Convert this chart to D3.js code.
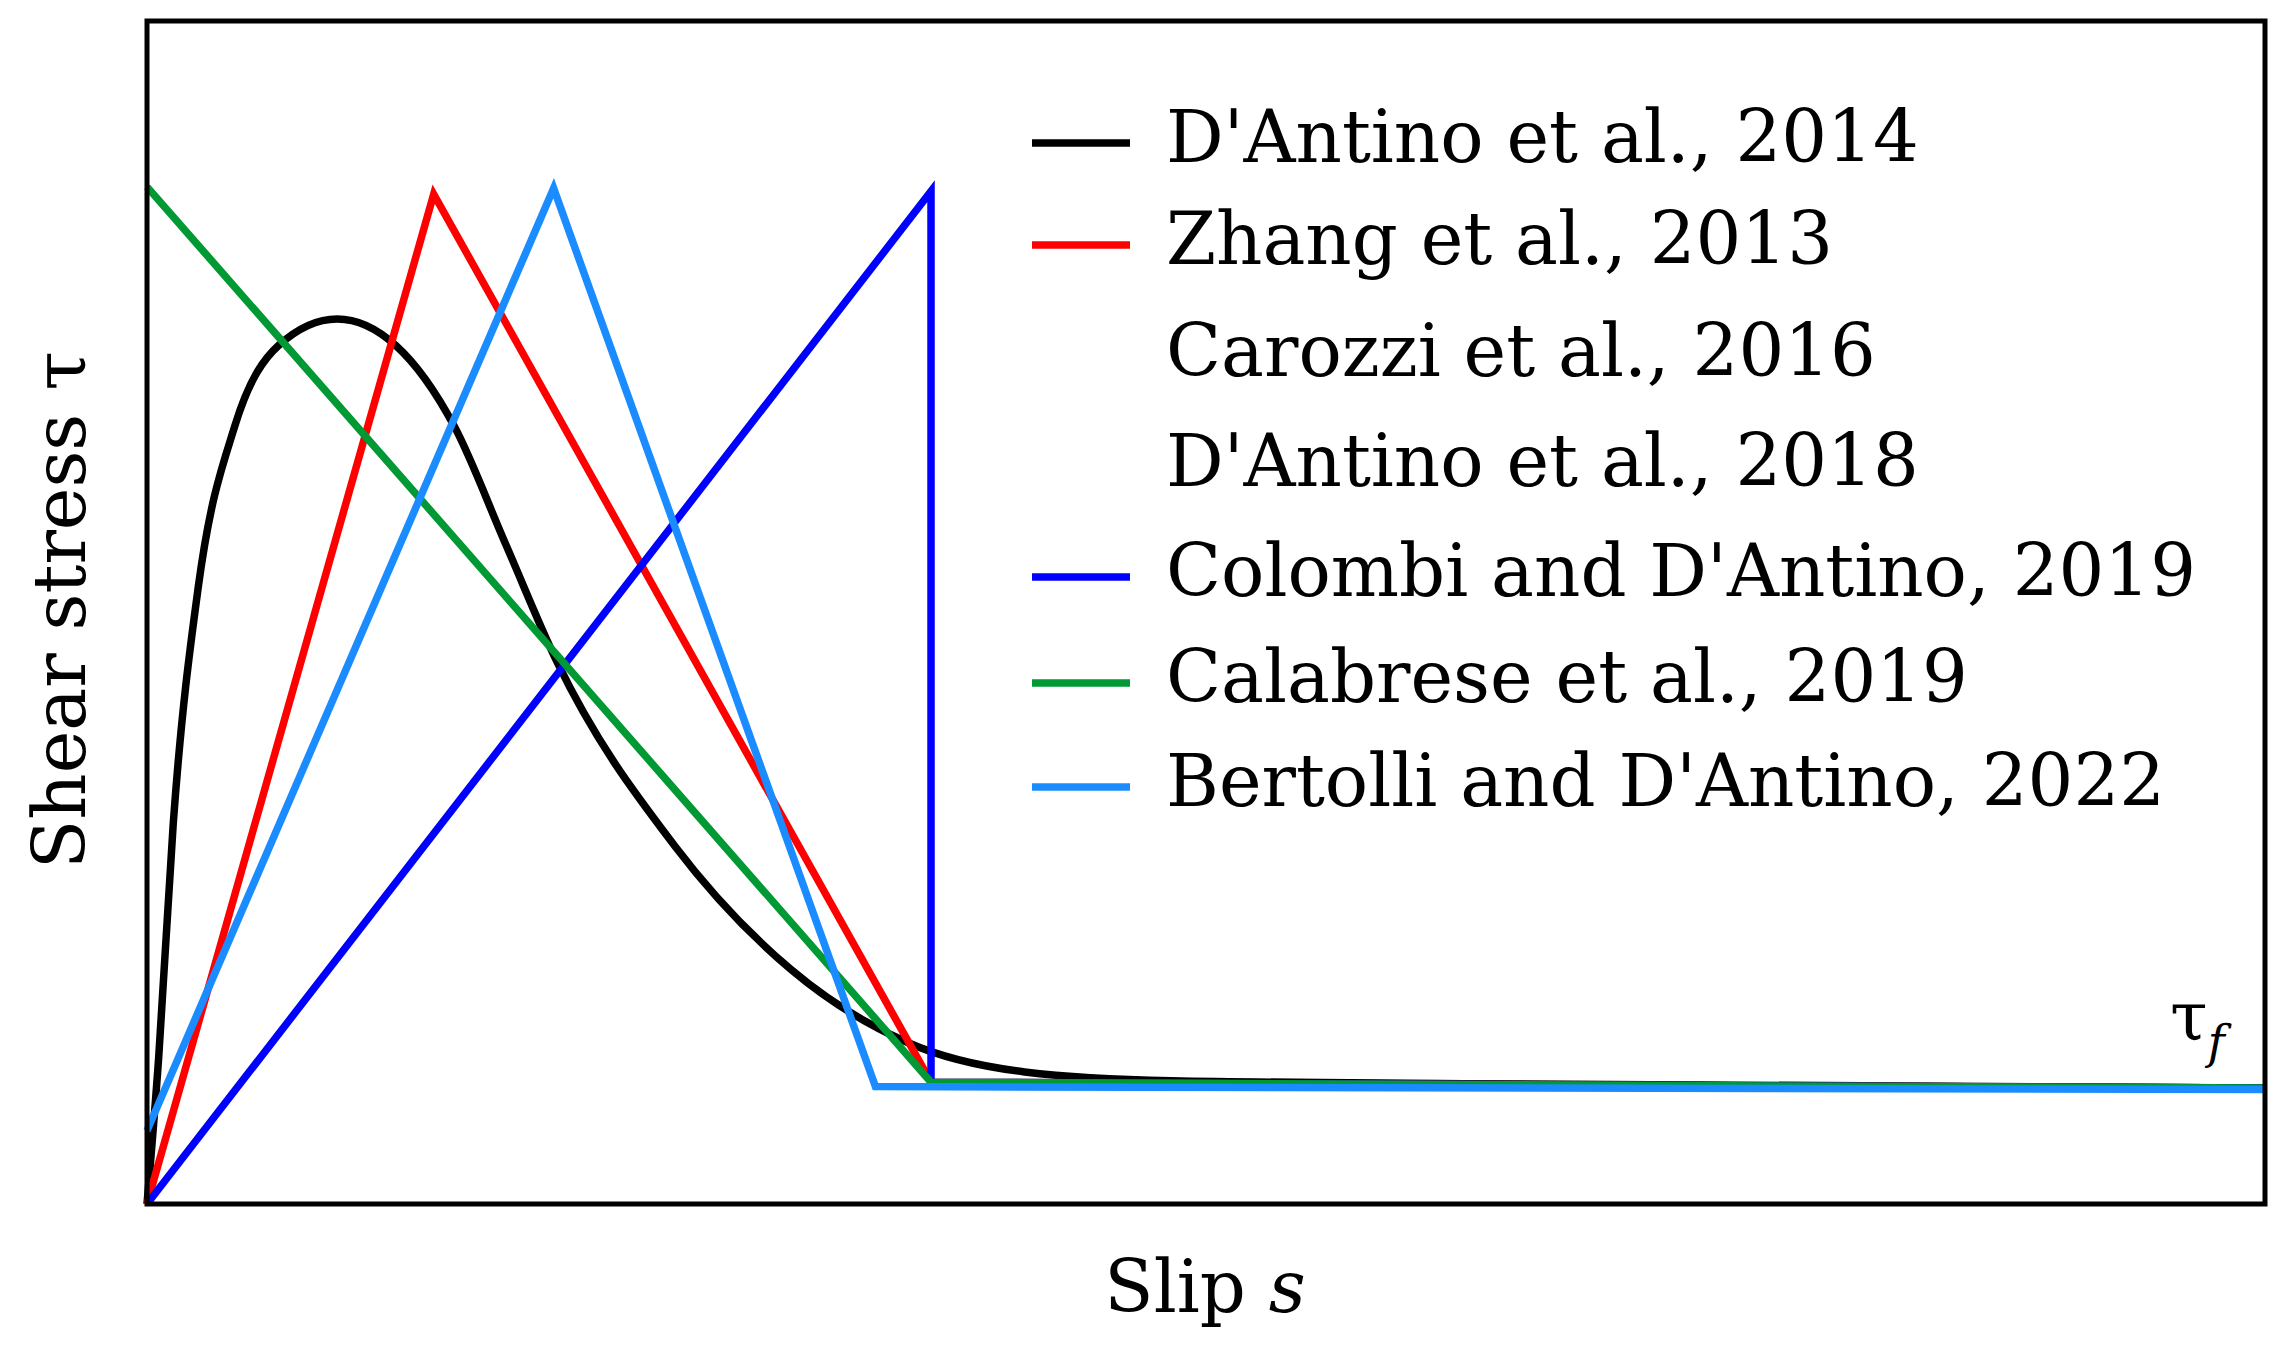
<!DOCTYPE html>
<html><head><meta charset="utf-8">
<script src="https://cdn.jsdelivr.net/npm/d3@7"></script>
<style>body{margin:0;background:#fff}</style></head>
<body><svg id="c" width="2292" height="1364"></svg>
<script>
// slip (0..1448) and stress (0..806) in chart units
const dantino2014 = [[0,0],[8,100],[18,260],[35,420],[60,530],[90,585],[130,603],[170,585],[210,530],[245,450],[280,370],[360,245],[440,160],[520,110],[600,90],[700,84],[900,82],[1448,79]];
const zhang2013 = [[0,0],[196,688],[536,83],[1448,79]];
const colombi2019 = [[0,0],[536,690],[536,83],[1448,79]];
const calabrese2019 = [[0,693],[536,83],[1448,79]];
const bertolli2022 = [[0,50],[278,692],[498,80],[1448,78]];
const legendLabels = ["D'Antino et al., 2014","Zhang et al., 2013","Carozzi et al., 2016","D'Antino et al., 2018","Colombi and D'Antino, 2019","Calabrese et al., 2019","Bertolli and D'Antino, 2022"];
const legendColors = ["#000","#ff0000",null,null,"#0000ff","#009933","#1a8cff"];

const svg = d3.select("#c");
const L=147,R=2265,T=21,B=1204;
const x = d3.scaleLinear().domain([0,1448]).range([L,R]);
const y = d3.scaleLinear().domain([0,806]).range([B,T]);
const font = "'DejaVu Serif', serif";

const line = d3.line().x(d=>x(d[0])).y(d=>y(d[1]));
const g = svg.append("g");
g.append("path").datum(dantino2014).attr("d", line.curve(d3.curveMonotoneX)).attr("fill","none").attr("stroke","#000").attr("stroke-width",7.5);
line.curve(d3.curveLinear);
[[zhang2013,"#ff0000"],[colombi2019,"#0000ff"],[calabrese2019,"#009933"],[bertolli2022,"#1a8cff"]].forEach(([d,c])=>{
  g.append("path").datum(d).attr("d",line).attr("fill","none").attr("stroke",c).attr("stroke-width",7.5).attr("stroke-linejoin","miter");
});
svg.append("rect").attr("x",L).attr("y",T).attr("width",R-L).attr("height",B-T).attr("fill","none").attr("stroke","#000").attr("stroke-width",5);

const ly = [148,250,362,472,582,688,792];
legendLabels.forEach((t,i)=>{
  if(legendColors[i]) svg.append("line").attr("x1",1032).attr("x2",1130).attr("y1",ly[i]-5).attr("y2",ly[i]-5).attr("stroke",legendColors[i]).attr("stroke-width",7.5);
  svg.append("text").attr("x",1166).attr("y",ly[i]+14).attr("font-family",font).attr("font-size",72).text(t);
});

svg.append("text").attr("x",1205).attr("y",1312).attr("text-anchor","middle").attr("font-family",font).attr("font-size",72)
  .html("Slip <tspan font-style='italic'>s</tspan>");
svg.append("text").attr("transform","translate(85,610) rotate(-90)").attr("text-anchor","middle").attr("font-family",font).attr("font-size",72)
  .text("Shear stress τ");
svg.append("text").attr("x",2170).attr("y",1040).attr("font-family",font).attr("font-size",68)
  .html("τ<tspan font-style='italic' font-size='46' dy='18'>f</tspan>");
</script></body></html>
